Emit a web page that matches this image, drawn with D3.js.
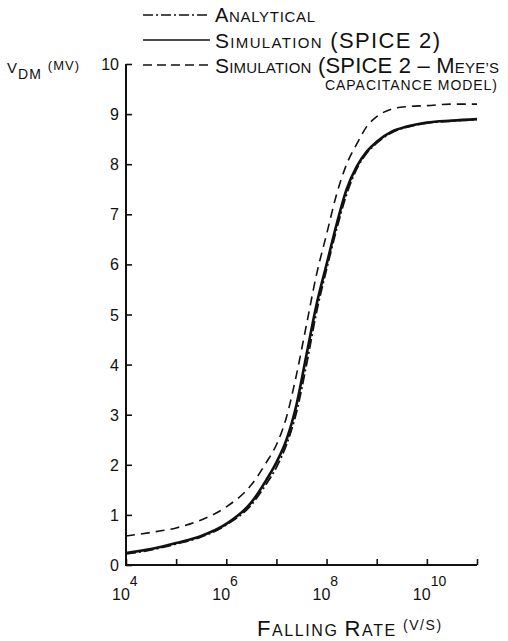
<!DOCTYPE html>
<html>
<head>
<meta charset="utf-8">
<script src="https://cdn.jsdelivr.net/npm/d3@7"></script>
<style>
  body { margin: 0; background: #fff; }
  text { font-family: "Liberation Sans", "DejaVu Sans", sans-serif; fill: #111; }
</style>
</head>
<body>
<div id="output"></div>
<script>
// falling rate exponents (10^e V/s)
var rateExp = [4, 4.5, 5, 5.5, 6, 6.5, 6.8, 7, 7.2, 7.4, 7.6, 7.8, 8, 8.2, 8.4, 8.6, 8.8, 9, 9.3, 9.6, 10, 10.5, 11];

var analytical = [0.22, 0.30, 0.42, 0.56, 0.80, 1.20, 1.62, 1.95, 2.40, 3.05, 4.00, 5.05, 5.90, 6.70, 7.40, 7.90, 8.22, 8.42, 8.63, 8.74, 8.82, 8.86, 8.89];
var spice2 = [0.24, 0.32, 0.44, 0.58, 0.82, 1.25, 1.70, 2.05, 2.50, 3.20, 4.20, 5.20, 6.00, 6.80, 7.50, 7.95, 8.25, 8.45, 8.65, 8.75, 8.83, 8.87, 8.90];
var spiceMeyer = [0.58, 0.65, 0.74, 0.90, 1.16, 1.60, 2.05, 2.40, 2.95, 3.80, 4.80, 5.80, 6.60, 7.40, 8.00, 8.40, 8.75, 8.95, 9.10, 9.15, 9.17, 9.20, 9.20];

var yTicks = [0, 1, 2, 3, 4, 5, 6, 7, 8, 9, 10];
var xTickExp = [4, 5, 6, 7, 8, 9, 10, 11];
var xLabelExp = [4, 6, 8, 10];

var svg = d3.select("#output").append("svg")
  .attr("width", 508)
  .attr("height", 641);

var x = d3.scaleLog().domain([1e4, 1e11]).range([126, 477]);
var y = d3.scaleLinear().domain([0, 10]).range([565, 64]);

// axes
var yAxis = d3.axisRight(y).tickValues(yTicks).tickSize(6).tickFormat("");
svg.append("g").attr("transform", "translate(126,0)").call(yAxis);
var xAxis = d3.axisTop(x).tickValues(xTickExp.map(function (e) { return Math.pow(10, e); }))
  .tickSize(6).tickFormat("");
svg.append("g").attr("transform", "translate(0,565)").call(xAxis);
svg.selectAll(".domain").remove();
svg.selectAll(".tick line").attr("stroke", "#111").attr("stroke-width", 1.6);

svg.append("path")
  .attr("d", "M126," + y(10) + "V565H" + x(1e11))
  .attr("fill", "none").attr("stroke", "#111").attr("stroke-width", 2);

// y tick labels
svg.selectAll(".ylab").data(yTicks).enter().append("text")
  .attr("x", 119)
  .attr("y", function (d) { return y(d) + 6; })
  .attr("text-anchor", "end")
  .style("font-size", "16px")
  .text(function (d) { return d; });

// x tick labels: 10^n
xLabelExp.forEach(function (e) {
  var cx = x(Math.pow(10, e));
  var t = svg.append("text").attr("x", cx - 14).attr("y", 600).style("font-size", "16px");
  t.append("tspan").text("10");
  t.append("tspan").attr("dy", -14).style("font-size", "14px").text(e);
});

// curves
var line = function (vals) {
  return d3.line()
    .x(function (d, i) { return x(Math.pow(10, rateExp[i])); })
    .y(function (d) { return y(d); })
    .curve(d3.curveMonotoneX)(vals);
};

svg.append("path").attr("d", line(spiceMeyer))
  .attr("fill", "none").attr("stroke", "#111").attr("stroke-width", 1.6)
  .attr("stroke-dasharray", "9,6");
svg.append("path").attr("d", line(spice2))
  .attr("fill", "none").attr("stroke", "#111").attr("stroke-width", 2.6);
svg.append("path").attr("d", line(analytical))
  .attr("fill", "none").attr("stroke", "#111").attr("stroke-width", 1.8)
  .attr("stroke-dasharray", "10,3,2,3");

// small caps helper: parts = [[text, size], ...], stretched to width w
function caps(xp, yp, parts, w) {
  var t = svg.append("text").attr("x", xp).attr("y", yp);
  parts.forEach(function (p) {
    t.append("tspan").style("font-size", p[1] + "px").text(p[0]);
  });
  if (w) t.attr("textLength", w).attr("lengthAdjust", "spacing");
  return t;
}

// legend
var legend = [
  {y: 15, dash: "10,3,2,3", w: 1.6},
  {y: 40, dash: null, w: 1.6},
  {y: 65, dash: "9,5", w: 1.6}
];
legend.forEach(function (l) {
  var p = svg.append("line").attr("x1", 143).attr("x2", 210)
    .attr("y1", l.y).attr("y2", l.y)
    .attr("stroke", "#111").attr("stroke-width", l.w);
  if (l.dash) p.attr("stroke-dasharray", l.dash);
});
caps(215, 22, [["A", 20], ["NALYTICAL", 15]], 100);
caps(215, 48, [["S", 21], ["IMULATION", 15], [" (SPICE 2)", 22]], 225);
caps(215, 73, [["S", 21], ["IMULATION", 15], [" (SPICE 2 \u2013 M", 22], ["EYE\u2019S", 15]], 284);
caps(325, 90, [["CAPACITANCE MODEL)", 14]], 172);

// y axis title
var yt = svg.append("text").attr("x", 7).attr("y", 73).style("letter-spacing", "1px");
yt.append("tspan").style("font-size", "15px").text("V");
yt.append("tspan").attr("dy", 6).style("font-size", "14px").text("DM");
yt.append("tspan").attr("dy", -9).attr("dx", 6).style("font-size", "13px").text("(MV)");

// x axis title
var xt = svg.append("text").attr("x", 257).attr("y", 636).style("letter-spacing", "1.6px");
xt.append("tspan").style("font-size", "22px").text("F");
xt.append("tspan").style("font-size", "16px").text("ALLING ");
xt.append("tspan").style("font-size", "22px").text("R");
xt.append("tspan").style("font-size", "16px").text("ATE ");
xt.append("tspan").attr("dy", -6).style("font-size", "14px").text("(V/S)");
</script>
</body>
</html>
